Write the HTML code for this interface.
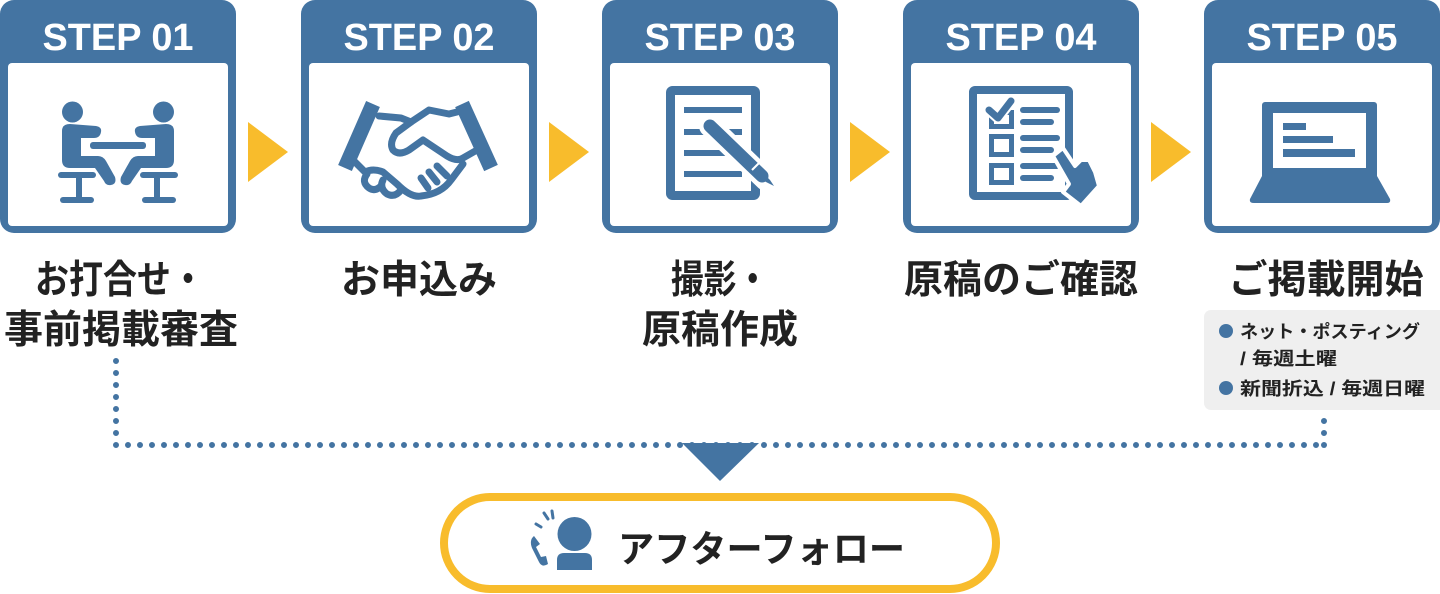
<!DOCTYPE html>
<html><head><meta charset="utf-8">
<style>
html,body{margin:0;padding:0;background:#fff;}
svg{display:block;}
text{font-family:"Liberation Sans","Noto Sans CJK JP",sans-serif;font-weight:bold;}
</style></head><body>
<svg width="1440" height="594" viewBox="0 0 1440 594" xmlns="http://www.w3.org/2000/svg">
<defs>
<g id="box">
  <rect x="0" y="0" width="236" height="233" rx="14" fill="#4474A2"/>
  <rect x="8" y="63" width="220" height="163" rx="4" fill="#fff"/>
</g>
</defs>

<!-- boxes -->
<use href="#box" x="0" y="0"/>
<use href="#box" x="301" y="0"/>
<use href="#box" x="602" y="0"/>
<use href="#box" x="903" y="0"/>
<use href="#box" x="1204" y="0"/>

<g fill="#fff" font-size="38" text-anchor="middle">
<text x="118" y="50" textLength="151" lengthAdjust="spacingAndGlyphs">STEP 01</text>
<text x="419" y="50" textLength="151" lengthAdjust="spacingAndGlyphs">STEP 02</text>
<text x="720" y="50" textLength="151" lengthAdjust="spacingAndGlyphs">STEP 03</text>
<text x="1021" y="50" textLength="151" lengthAdjust="spacingAndGlyphs">STEP 04</text>
<text x="1322" y="50" textLength="151" lengthAdjust="spacingAndGlyphs">STEP 05</text>
</g>

<!-- arrows -->
<g fill="#F8BC2C">
<polygon points="248,122 288,152 248,182"/>
<polygon points="549,122 589,152 549,182"/>
<polygon points="850,122 890,152 850,182"/>
<polygon points="1151,122 1191,152 1151,182"/>
</g>

<!-- STEP1 icon -->
<g fill="#4474A2">
  <g id="person">
    <circle cx="72.5" cy="112" r="10.5"/>
    <path d="M62,131 Q62,124 70,124 L96,126 Q102,127 101,132 Q100,138 94,138 L81,138 L81,156 L98,156 Q103,156 106,161 L115,177 Q117,184 111,185 Q106,186 104,181 L95,168 L70,168 Q62,168 62,160 Z"/>
    <rect x="58" y="172" width="38" height="6" rx="3"/>
    <rect x="76" y="176" width="6" height="22"/>
    <rect x="60" y="197" width="34" height="6" rx="3"/>
  </g>
  <use href="#person" transform="translate(236,0) scale(-1,1)"/>
  <rect x="90" y="142" width="56" height="7" rx="3"/>
</g>

<!-- STEP2 handshake -->
<g transform="translate(301,0)" fill="none" stroke="#4474A2" stroke-width="7" stroke-linejoin="round" stroke-linecap="round">
  <path d="M72,104 L44,168" stroke-width="15" stroke-linecap="butt"/>
  <path d="M161,104 L190,168" stroke-width="15" stroke-linecap="butt"/>
  <path d="M78,116 L100,118 L110,122 L128,110 L148,114 L156,112"/>
  <path d="M110,122 L95,133 Q88,143 92,150 Q98,156 108,150 L122,140 L146,156 Q156,162 162,158 L176,150"/>
  <path d="M52,160 L64,172 Q72,168 82,172 L96,184 Q110,198 120,196 Q140,194 150,180 L162,164"/>
  <path d="M66,174 Q60,182 68,188 Q74,192 80,186"/>
  <path d="M82,180 Q78,188 86,194 Q94,198 100,190"/>
  <path d="M128,172 L136,182"/>
  <path d="M136,166 L146,176"/>
  <path d="M120,178 L127,188"/>
</g>

<!-- STEP3 doc -->
<g transform="translate(602,0)">
  <rect x="68.5" y="90.5" width="85" height="105" rx="2" fill="#fff" stroke="#4474A2" stroke-width="9"/>
  <g fill="#4474A2">
    <rect x="82" y="107" width="58" height="6"/>
    <rect x="82" y="129" width="58" height="6"/>
    <rect x="82" y="150" width="58" height="6"/>
    <rect x="82" y="171" width="58" height="6"/>
  </g>
  <line x1="108" y1="126" x2="164" y2="180" stroke="#fff" stroke-width="22" stroke-linecap="round"/>
  <line x1="108" y1="126" x2="160" y2="176" stroke="#4474A2" stroke-width="13" stroke-linecap="round"/>
  <polygon points="156,168 168,180 172,186 164,182 152,174" fill="#4474A2"/>
  <line x1="150" y1="170" x2="158" y2="162" stroke="#fff" stroke-width="2"/>
</g>

<!-- STEP4 checklist -->
<g transform="translate(903,0)">
  <rect x="70" y="90" width="96" height="106" rx="2" fill="#fff" stroke="#4474A2" stroke-width="8"/>
  <g fill="none" stroke="#4474A2">
    <rect x="88.5" y="112.5" width="20" height="14" stroke-width="5"/>
    <rect x="88.5" y="136.5" width="20" height="18" stroke-width="5"/>
    <rect x="88.5" y="165.5" width="20" height="17" stroke-width="5"/>
    <polyline points="86,110 95,118 108,101" stroke="#fff" stroke-width="11" stroke-linecap="round" stroke-linejoin="round"/>
    <polyline points="86,110 95,118 108,101" stroke-width="7" stroke-linecap="round" stroke-linejoin="round"/>
    <g stroke-width="6" stroke-linecap="round">
      <line x1="120" y1="110" x2="154" y2="110"/>
      <line x1="120" y1="122" x2="148" y2="122"/>
      <line x1="120" y1="138" x2="154" y2="138"/>
      <line x1="120" y1="150" x2="148" y2="150"/>
      <line x1="120" y1="166" x2="154" y2="166"/>
      <line x1="120" y1="178" x2="148" y2="178"/>
    </g>
  </g>
  <path d="M150,156 L160,148 L172,166 L178,160 L186,160 L192,172 L196,186 L178,206 L160,192 L166,184 Z" fill="#4474A2" stroke="#fff" stroke-width="4" stroke-linejoin="round"/>
</g>

<!-- STEP5 laptop -->
<g transform="translate(1204,0)" fill="#4474A2">
  <rect x="58" y="102" width="115" height="78" rx="3"/>
  <path d="M58,176 L173,176 L186,199 Q187,203 183,203 L50,203 Q45,203 46,199 Z"/>
  <rect x="69" y="113" width="93" height="55" fill="#fff"/>
  <rect x="79" y="123" width="23" height="7"/>
  <rect x="79" y="136" width="50" height="7"/>
  <rect x="79" y="149" width="72" height="8"/>
</g>

<!-- labels -->
<g fill="#222" font-size="39" text-anchor="middle">
<text x="120" y="293" textLength="170" lengthAdjust="spacingAndGlyphs">お打合せ・</text>
<text x="121" y="343">事前掲載審査</text>
<text x="419" y="293">お申込み</text>
<text x="720" y="293" textLength="98" lengthAdjust="spacingAndGlyphs">撮影・</text>
<text x="720" y="343">原稿作成</text>
<text x="1021" y="293">原稿のご確認</text>
<text x="1326" y="293">ご掲載開始</text>
</g>

<!-- schedule box -->
<rect x="1204" y="310" width="244" height="100" rx="7" fill="#EFEFEF"/>
<circle cx="1226" cy="331" r="7" fill="#4474A2"/>
<circle cx="1226" cy="388" r="7" fill="#4474A2"/>
<g fill="#222" font-size="18">
<text x="1240" y="338" textLength="180" lengthAdjust="spacingAndGlyphs">ネット・ポスティング</text>
<text x="1240" y="365" textLength="97" lengthAdjust="spacingAndGlyphs">/ 毎週土曜</text>
<text x="1240" y="395" textLength="185" lengthAdjust="spacingAndGlyphs">新聞折込 / 毎週日曜</text>
</g>

<!-- dotted connectors -->
<g stroke="#4474A2" stroke-width="6" stroke-linecap="round" stroke-dasharray="0 12" fill="none">
<line x1="116" y1="361" x2="116" y2="445"/>
<line x1="116" y1="445" x2="1324" y2="445"/>
<line x1="1324" y1="421" x2="1324" y2="445"/>
</g>
<circle cx="1324" cy="445" r="3" fill="#4474A2"/>
<polygon points="682,443 759,443 720,481" fill="#4474A2"/>

<!-- after follow pill -->
<rect x="444" y="497" width="552" height="92" rx="46" fill="#fff" stroke="#F8BC2C" stroke-width="8"/>
<g fill="#4474A2">
  <circle cx="574.5" cy="534" r="17"/>
  <path d="M557,560 Q557,553 564,553 L585,553 Q592,553 592,560 L592,570 L557,570 Z"/>
  <path d="M534,536 Q529,540 532,548 L539,562 Q542,568 548,564 L546,556 L541,557 L536,547 L540,544 Z"/>
</g>
<g stroke="#4474A2" stroke-width="3" stroke-linecap="round">
  <line x1="544" y1="513" x2="548" y2="519"/>
  <line x1="552" y1="511" x2="553" y2="518"/>
  <line x1="536" y1="524" x2="541" y2="527"/>
</g>
<text x="618" y="562" font-size="37" fill="#222" textLength="287" lengthAdjust="spacingAndGlyphs">アフターフォロー</text>
</svg>
</body></html>
